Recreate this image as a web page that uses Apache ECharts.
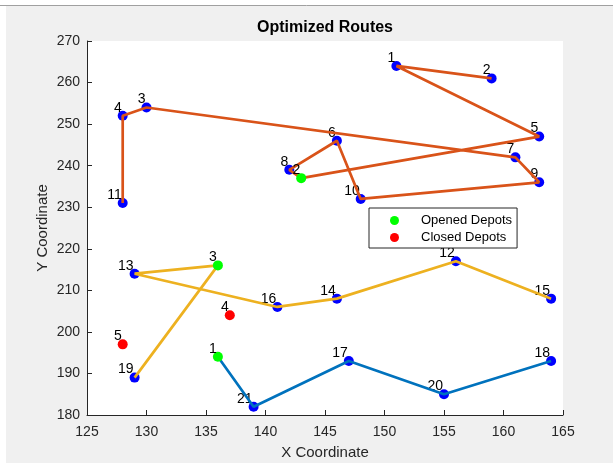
<!DOCTYPE html>
<html>
<head>
<meta charset="utf-8">
<title>Optimized Routes</title>
<script src="https://cdn.jsdelivr.net/npm/echarts@6/dist/echarts.min.js"></script>
<style>
  html, body { margin: 0; padding: 0; background: #ffffff; }
  #chart { width: 613px; height: 463px; }
</style>
</head>
<body>
<div id="chart"></div>
<script>
// Customer locations (customer i is at index i-1)
const customerX = [151, 159, 130, 128, 163, 146, 161, 142, 163, 148, 128, 156, 129, 146, 164, 141, 147, 164, 129, 155, 139];
const customerY = [264, 261, 254, 252, 247, 246, 242, 239, 236, 232, 231, 217, 214, 208, 208, 206, 193, 193, 189, 185, 182];

// Candidate depot locations (depot j is at index j-1)
const depotX = [136, 143, 136, 137, 128];
const depotY = [194, 237, 216, 204, 197];
const openedDepots = [1, 2, 3];
const closedDepots = [4, 5];

// Route paths: numbers are customers, 'D' + n is depot n
const routeDepot1 = ['D1', 21, 17, 20, 18];
const routeDepot2 = [11, 4, 3, 7, 9, 10, 6, 8, 'D2', 5, 1, 2];
const routeDepot3 = [19, 'D3', 13, 16, 14, 12, 15];

const xTicks = { min: 125, max: 165, step: 5 };
const yTicks = { min: 180, max: 270, step: 10 };

const FONT = "'Liberation Sans', Arial, Helvetica, sans-serif";
const routeColors = ['#0072BD', '#D95319', '#EDB120'];

function nodePoint(id) {
  if (typeof id === 'string') {
    const j = parseInt(id.slice(1), 10) - 1;
    return [depotX[j], depotY[j]];
  }
  return [customerX[id - 1], customerY[id - 1]];
}

const pointLabel = {
  show: true,
  formatter: p => p.name,
  position: [4, 4],
  align: 'right',
  verticalAlign: 'bottom',
  color: '#000000',
  fontFamily: FONT,
  fontSize: 14
};

const customerData = customerX.map((x, i) => ({ name: String(i + 1), value: [x, customerY[i]] }));
const openedData = openedDepots.map(j => ({ name: String(j), value: [depotX[j - 1], depotY[j - 1]] }));
const closedData = closedDepots.map(j => ({ name: String(j), value: [depotX[j - 1], depotY[j - 1]] }));

const routeSeries = [routeDepot1, routeDepot2, routeDepot3].map((route, k) => ({
  type: 'line',
  name: 'Route ' + (k + 1),
  data: route.map(nodePoint),
  symbol: 'none',
  showSymbol: false,
  silent: true,
  z: 3,
  lineStyle: { color: routeColors[k], width: 2.7 }
}));

const chart = echarts.init(document.getElementById('chart'), null, { renderer: 'canvas' });

chart.setOption({
  animation: false,
  backgroundColor: '#f0f0f0',
  graphic: [
    { type: 'rect', shape: { x: 0, y: 0, width: 613, height: 5 }, style: { fill: '#ffffff' }, silent: true },
    { type: 'rect', shape: { x: 0, y: 0, width: 6, height: 463 }, style: { fill: '#ffffff' }, silent: true },
    { type: 'line', shape: { x1: 0, y1: 5.5, x2: 613, y2: 5.5 }, style: { stroke: '#a0a0a0', lineWidth: 1 }, silent: true }
  ],
  title: {
    text: 'Optimized Routes',
    left: 257,
    top: 20,
    padding: 0,
    textStyle: { fontFamily: FONT, fontSize: 16, fontWeight: 'bold', color: '#000000' }
  },
  legend: {
    orient: 'vertical',
    left: 369,
    top: 208,
    padding: [6, 5, 4, 21],
    itemWidth: 9,
    itemHeight: 9,
    itemGap: 4,
    backgroundColor: '#ffffff',
    borderColor: '#262626',
    borderWidth: 1,
    borderRadius: 0,
    data: ['Opened Depots', 'Closed Depots'],
    textStyle: { fontFamily: FONT, fontSize: 13, color: '#000000', padding: [0, 0, 0, 17] },
    selectedMode: false
  },
  grid: {
    left: 87,
    right: 50,
    top: 41,
    bottom: 48,
    show: true,
    backgroundColor: '#ffffff',
    borderWidth: 0,
    containLabel: false,
    outerBoundsMode: 'none'
  },
  xAxis: {
    type: 'value',
    min: xTicks.min,
    max: xTicks.max,
    interval: xTicks.step,
    name: 'X Coordinate',
    nameLocation: 'middle',
    nameGap: 30,
    nameMoveOverlap: false,
    nameTextStyle: { fontFamily: FONT, fontSize: 15, color: '#262626' },
    axisLine: { show: true, lineStyle: { color: '#262626', width: 1 } },
    axisTick: { show: true, inside: true, length: 5, lineStyle: { color: '#262626' } },
    axisLabel: { margin: 10, fontFamily: FONT, fontSize: 14, color: '#262626' },
    splitLine: { show: false }
  },
  yAxis: {
    type: 'value',
    min: yTicks.min,
    max: yTicks.max,
    interval: yTicks.step,
    name: 'Y Coordinate',
    nameLocation: 'middle',
    nameGap: 37,
    nameMoveOverlap: false,
    nameTextStyle: { fontFamily: FONT, fontSize: 15, color: '#262626' },
    axisLine: { show: true, lineStyle: { color: '#262626', width: 1 } },
    axisTick: { show: true, inside: true, length: 5, lineStyle: { color: '#262626' } },
    axisLabel: { margin: 7, fontFamily: FONT, fontSize: 14, color: '#262626' },
    splitLine: { show: false }
  },
  series: [
    {
      type: 'scatter',
      name: 'Customers',
      data: customerData,
      symbol: 'circle',
      symbolSize: 10,
      z: 2,
      silent: true,
      itemStyle: { color: '#0000ff', opacity: 1 },
      label: pointLabel
    },
    ...routeSeries,
    {
      type: 'scatter',
      name: 'Opened Depots',
      data: openedData,
      symbol: 'circle',
      symbolSize: 10,
      z: 4,
      silent: true,
      itemStyle: { color: '#00ff00', opacity: 1 },
      label: pointLabel
    },
    {
      type: 'scatter',
      name: 'Closed Depots',
      data: closedData,
      symbol: 'circle',
      symbolSize: 10,
      z: 4,
      silent: true,
      itemStyle: { color: '#ff0000', opacity: 1 },
      label: pointLabel
    }
  ]
});
</script>
</body>
</html>
